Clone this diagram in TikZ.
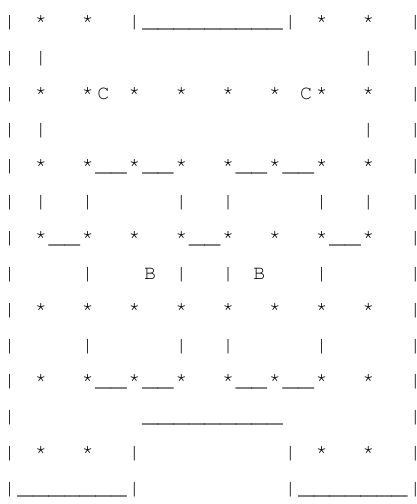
\documentclass[tikz,border=0pt]{standalone}
\usepackage{fontspec}
\usepackage{graphicx}
\newfontfamily\asciifont{texgyrecursor-regular.otf}
\def\gdot{.}
\def\gunder{\_}
\newcommand\gcell[1]{\makebox[15.6pt][c]{\ifx#1\gdot\else\ifx#1\gunder\scalebox{1.3}[1]{\_}\else#1\fi\fi}}
\makeatletter
\newcommand\gridline[1]{\@tfor\gch:=#1\do{\gcell{\gch}}\hspace{-9pt}}
\makeatother
\tikzset{
  asciirow/.style={anchor=base west, inner sep=0pt, outer sep=0pt,
    font=\asciifont\fontsize{20}{22}\selectfont}
}
\begin{document}
\begin{tikzpicture}[x=1pt,y=1pt]
\useasboundingbox (0,0) rectangle (417,504);
\def\rowy#1{504-28-35.9*(#1-1)}
\def\rowx{1.9}
\node[asciirow] (l1)  at (\rowx,{\rowy{1}})  {\gridline{|.*..*..|\_\_\_\_\_\_\_\_\_|.*..*..|}};
\node[asciirow] (l2)  at (\rowx,{\rowy{2}})  {\gridline{|.|....................|..|}};
\node[asciirow] (l3)  at (\rowx,{\rowy{3}})  {\gridline{|.*..*C.*..*..*..*.C*..*..|}};
\node[asciirow] (l4)  at (\rowx,{\rowy{4}})  {\gridline{|.|....................|..|}};
\node[asciirow] (l5)  at (\rowx,{\rowy{5}})  {\gridline{|.*..*\_\_*\_\_*..*\_\_*\_\_*..*..|}};
\node[asciirow] (l6)  at (\rowx,{\rowy{6}})  {\gridline{|.|..|.....|..|.....|..|..|}};
\node[asciirow] (l7)  at (\rowx,{\rowy{7}})  {\gridline{|.*\_\_*..*..*\_\_*..*..*\_\_*..|}};
\node[asciirow] (l8)  at (\rowx,{\rowy{8}})  {\gridline{|....|...B.|..|.B...|.....|}};
\node[asciirow] (l9)  at (\rowx,{\rowy{9}})  {\gridline{|.*..*..*..*..*..*..*..*..|}};
\node[asciirow] (l10) at (\rowx,{\rowy{10}}) {\gridline{|....|.....|..|.....|.....|}};
\node[asciirow] (l11) at (\rowx,{\rowy{11}}) {\gridline{|.*..*\_\_*\_\_*..*\_\_*\_\_*..*..|}};
\node[asciirow] (l12) at (\rowx,{\rowy{12}}) {\gridline{|........\_\_\_\_\_\_\_\_\_........|}};
\node[asciirow] (l13) at (\rowx,{\rowy{13}}) {\gridline{|.*..*..|.........|.*..*..|}};
\node[asciirow] (l14) at (\rowx,{\rowy{14}}) {\gridline{|\_\_\_\_\_\_\_|.........|\_\_\_\_\_\_\_|}};
\end{tikzpicture}
\end{document}
